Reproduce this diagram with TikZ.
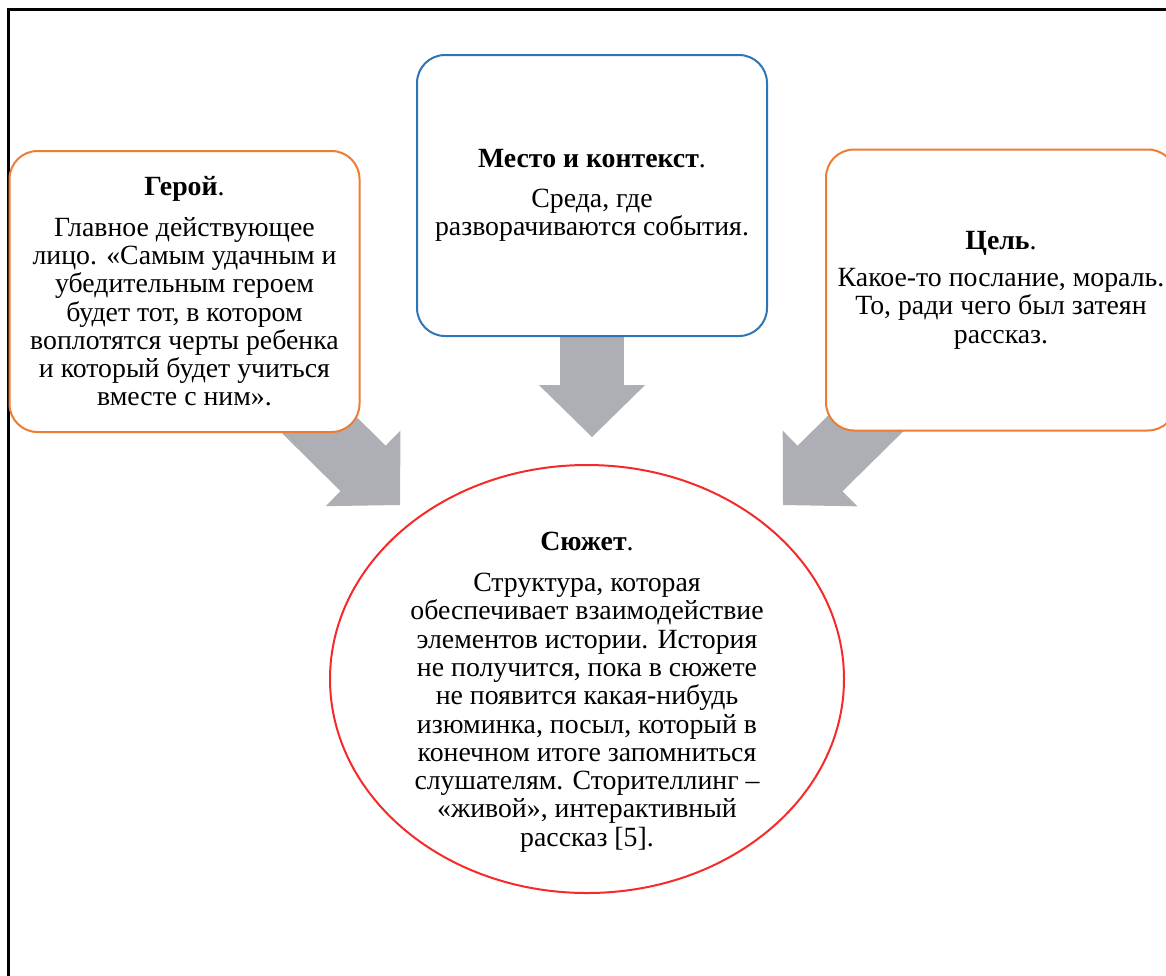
\documentclass[tikz,border=0pt]{standalone}
\usepackage{fontspec}
\setmainfont{Liberation Serif}
\usepackage{xcolor}
\usepackage{tikz}
\usetikzlibrary{positioning,shapes.geometric,arrows.meta,backgrounds}
\definecolor{heroorange}{HTML}{ED7D31}
\definecolor{placeblue}{HTML}{2E75B6}
\definecolor{plotred}{HTML}{F52A2A}
\definecolor{arrowgray}{HTML}{ADAFB4}
\tikzset{
  card/.style={draw, rounded corners=28pt, line width=2pt, fill=white, align=center, minimum width=350pt, minimum height=281pt, inner sep=0pt, font=\fontsize{27.8}{28.3}\selectfont},
  plotshape/.style={draw=plotred, ellipse, line width=2pt, fill=white, minimum width=514pt, minimum height=428pt},
  bodytext/.style={align=center, font=\fontsize{27.8}{28.3}\selectfont},
  bigarrow/.style={draw=arrowgray, line width=64pt, -{Triangle[length=52pt, width=106pt, line width=1.5pt]}}
}

\begin{document}
\begin{tikzpicture}[x=1pt, y=-1pt]
  \useasboundingbox (0,0) rectangle (1166,975);
  \draw[line width=2.5pt] (8.3,990) |- (1180,9.3);
  \node[card, draw=heroorange] (hero) at (184.5,291.5) {\textbf{Герой}.\\[12pt]Главное действующее\\лицо. «Самым удачным и\\убедительным героем\\будет тот, в котором\\воплотятся черты ребенка\\и который будет учиться\\вместе с ним».};
  \node[card, draw=placeblue] (place) at (592,195.5) {\textbf{Место и контекст}.\\[12pt]Среда, где\\разворачиваются события.};
  \node[card, draw=heroorange] (goal) at (1001,290) {\textbf{Цель}.\\[9pt]Какое-то послание, мораль.\\То, ради чего был затеян\\рассказ.};
  \node[plotshape] (plot) at (587,679) {};
  \node[bodytext] (plottext) at ([yshift=-13pt]plot.center) {\textbf{Сюжет}.\\[13pt]Структура, которая\\обеспечивает взаимодействие\\элементов истории. История\\не получится, пока в сюжете\\не появится какая-нибудь\\изюминка, посыл, который в\\конечном итоге запомниться\\слушателям. Сторителлинг –\\«живой», интерактивный\\рассказ [5].};
  \coordinate (heroTip) at (400,505);
  \coordinate (placeTip) at (592,437);
  \coordinate (goalTip) at (783,505);
  \begin{scope}[on background layer]
    \draw[bigarrow] (hero.center) -- (heroTip);
    \draw[bigarrow] (place.center) -- (placeTip);
    \draw[bigarrow] (goal.center) -- (goalTip);
  \end{scope}
\end{tikzpicture}
\end{document}
